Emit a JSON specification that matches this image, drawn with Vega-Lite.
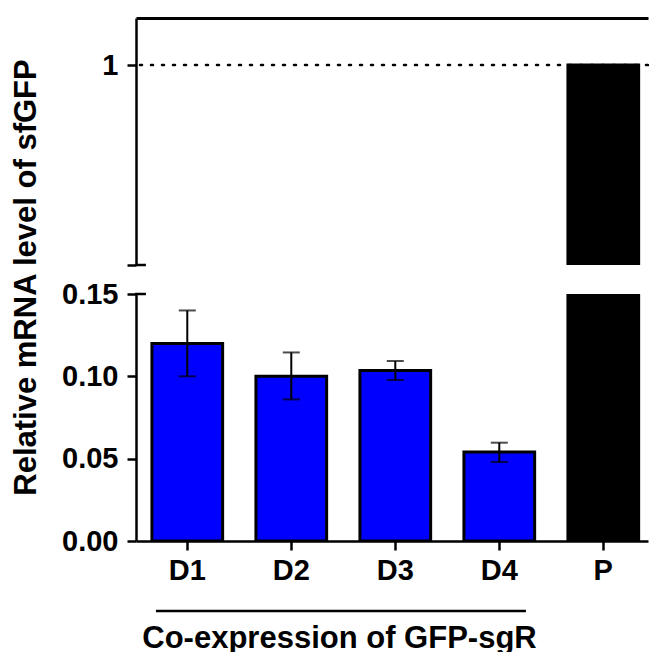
{
  "$schema": "https://vega.github.io/schema/vega-lite/v6.json",
  "padding": {"left": 10, "top": 18, "right": 0, "bottom": 0},
  "background": "white",
  "bounds": "flush",
  "spacing": 29,
  "config": {
    "view": {"stroke": null},
    "font": "Liberation Sans",
    "axis": {
      "labelFont": "Liberation Sans", "labelFontWeight": "bold", "labelColor": "black",
      "titleFont": "Liberation Sans", "titleFontWeight": "bold", "titleColor": "black",
      "domainColor": "black", "tickColor": "black", "domainWidth": 2.5, "tickWidth": 2.5, "grid": false
    }
  },
  "datasets": {
    "bars": [
      {"group": "D1", "value": 0.12, "lo": 0.10, "hi": 0.14},
      {"group": "D2", "value": 0.10, "lo": 0.086, "hi": 0.1145},
      {"group": "D3", "value": 0.1035, "lo": 0.0978, "hi": 0.1093},
      {"group": "D4", "value": 0.054, "lo": 0.048, "hi": 0.0597},
      {"group": "P", "value": 1.0, "lo": null, "hi": null}
    ],
    "groups": [{"start": "D1", "end": "D4"}],
    "breaks": [{"at": 0.15, "first": "D1"}]
  },
  "vconcat": [
    {
      "width": 512, "height": 247,
      "layer": [
        {
          "data": {"name": "bars"},
          "transform": [{"filter": "datum.value > 0.15"}],
          "mark": {"type": "bar", "clip": true, "stroke": "black", "strokeWidth": 3},
          "encoding": {
            "x": {"field": "group", "type": "nominal",
              "scale": {"domain": ["D1","D2","D3","D4","P"], "paddingInner": 0.32, "paddingOuter": 0.1215, "align": 0.63},
              "axis": {"orient": "top", "labels": false, "ticks": false, "title": null, "domainWidth": 3}},
            "y": {"field": "value", "type": "quantitative", "scale": {"domain": [0.15, 1.2], "nice": false, "zero": false},
              "axis": {"values": [0.15, 1], "labelExpr": "datum.value == 1 ? '1' : ''", "title": null, "tickSize": 9, "labelPadding": 9, "labelFontSize": 29}},
            "fill": {"condition": {"test": "datum.group === 'P'", "value": "black"}, "value": "#0000ff"}
          }
        },
        {
          "data": {"name": "bars"},
          "transform": [{"filter": "datum.group === 'P'"}],
          "mark": {"type": "rule", "strokeDash": [2, 9], "strokeWidth": 2.5, "strokeCap": "round", "color": "black"},
          "encoding": {"y": {"datum": 1, "type": "quantitative"}}
        },
        {
          "data": {"name": "breaks"},
          "mark": {"type": "rule", "clip": false, "strokeWidth": 2.5, "color": "black"},
          "encoding": {
            "x": {"field": "first", "type": "nominal", "bandPosition": -0.24},
            "x2": {"field": "first", "bandPosition": -0.085},
            "y": {"field": "at", "type": "quantitative"}
          }
        }
      ]
    },
    {
      "width": 512, "height": 247,
      "layer": [
        {
          "data": {"name": "bars"},
          "mark": {"type": "bar", "clip": true, "stroke": "black", "strokeWidth": 3},
          "encoding": {
            "x": {"field": "group", "type": "nominal",
              "scale": {"domain": ["D1","D2","D3","D4","P"], "paddingInner": 0.32, "paddingOuter": 0.1215, "align": 0.63},
              "axis": {"title": "Co-expression of GFP-sgR", "labelAngle": 0, "tickSize": 9, "labelPadding": 6, "labelFontSize": 29,
                "titleFontSize": 31, "titleX": 203, "titleY": 106, "titleBaseline": "alphabetic", "titleAlign": "center"}},
            "y": {"field": "value", "type": "quantitative", "scale": {"domain": [0, 0.15], "nice": false},
              "axis": {"values": [0, 0.05, 0.1, 0.15], "format": ".2f", "title": "Relative mRNA level of sfGFP",
                "titleFontSize": 31, "titleY": -17, "titleAlign": "center", "titlePadding": 19,
                "tickSize": 9, "labelPadding": 9, "labelFontSize": 29}},
            "fill": {"condition": {"test": "datum.group === 'P'", "value": "black"}, "value": "#0000ff"}
          }
        },
        {
          "data": {"name": "bars"},
          "transform": [{"filter": "datum.group !== 'P'"}],
          "mark": {"type": "rule", "strokeWidth": 2, "color": "black"},
          "encoding": {
            "x": {"field": "group", "type": "nominal"},
            "y": {"field": "lo", "type": "quantitative"},
            "y2": {"field": "hi"}
          }
        },
        {
          "data": {"name": "bars"},
          "transform": [{"filter": "datum.group !== 'P'"}],
          "mark": {"type": "tick", "orient": "horizontal", "size": 17, "thickness": 2, "color": "black"},
          "encoding": {
            "x": {"field": "group", "type": "nominal"},
            "y": {"field": "lo", "type": "quantitative"}
          }
        },
        {
          "data": {"name": "bars"},
          "transform": [{"filter": "datum.group !== 'P'"}],
          "mark": {"type": "tick", "orient": "horizontal", "size": 17, "thickness": 2, "color": "black"},
          "encoding": {
            "x": {"field": "group", "type": "nominal"},
            "y": {"field": "hi", "type": "quantitative"}
          }
        },
        {
          "data": {"name": "breaks"},
          "mark": {"type": "rule", "clip": false, "strokeWidth": 2.5, "color": "black"},
          "encoding": {
            "x": {"field": "first", "type": "nominal", "bandPosition": -0.24},
            "x2": {"field": "first", "bandPosition": -0.085},
            "y": {"field": "at", "type": "quantitative"}
          }
        },
        {
          "data": {"name": "groups"},
          "mark": {"type": "rule", "clip": false, "strokeWidth": 2.5, "color": "black"},
          "encoding": {
            "x": {"field": "start", "type": "nominal", "bandPosition": 0.057},
            "x2": {"field": "end", "bandPosition": 0.877},
            "y": {"datum": -0.0425, "type": "quantitative"}
          }
        }
      ]
    }
  ]
}
